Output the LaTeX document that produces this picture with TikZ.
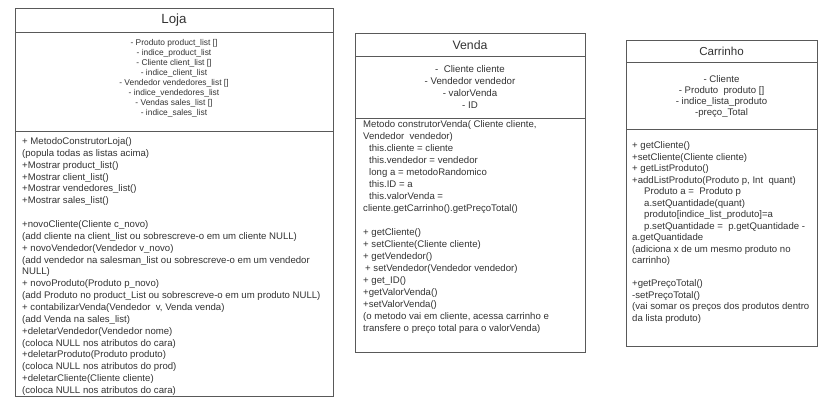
\documentclass[tikz,border=0pt]{standalone}
\usepackage{fontspec}
\setmainfont{Liberation Sans}
\definecolor{txt}{HTML}{333333}
\definecolor{ln}{HTML}{595959}
\begin{document}
\begin{tikzpicture}[x=1pt,y=-1pt,
  box/.style={draw=ln, line width=1pt, fill=white, inner sep=0pt, anchor=north west},
  sep/.style={draw=ln, line width=1pt},
  ttl/.style={text=txt, inner sep=0pt, anchor=center},
  attr/.style={text=txt, inner sep=0pt, align=center, anchor=north},
  meth/.style={text=txt, inner sep=0pt, align=left, anchor=north west}]
\useasboundingbox[fill=white] (0,0) rectangle (836,412);
% ---------------- Loja ----------------
\node[box, minimum width=318pt, minimum height=388pt] (loja) at (15,8) {};
\coordinate (lojaS1) at (15,33);
\coordinate (lojaS2) at (15,131);
\draw[sep] (lojaS1) -- (lojaS1 -| loja.east);
\draw[sep] (lojaS2) -- (lojaS2 -| loja.east);
\node[ttl, font=\fontsize{13.3}{16}\selectfont] (lojaT) at (174,20.5) {Loja};
\node[attr, font=\fontsize{8.4}{10.1}\selectfont] (lojaA) at (174,38.9) {%
- Produto product\_list []\\
- indice\_product\_list\\
- Cliente client\_list []\\
- indice\_client\_list\\
- Vendedor vendedores\_list []\\
- indice\_vendedores\_list\\
- Vendas sales\_list []\\
- indice\_sales\_list};
\node[meth, font=\fontsize{9.6}{11.85}\selectfont] (lojaM) at (22,137.4) {%
+ MetodoConstrutorLoja()\\
(popula todas as listas acima)\\
+Mostrar product\_list()\\
+Mostrar client\_list()\\
+Mostrar vendedores\_list()\\
+Mostrar sales\_list()\\[11.85pt]
+novoCliente(Cliente c\_novo)\\
(add cliente na client\_list ou sobrescreve-o em um cliente NULL)\\
+ novoVendedor(Vendedor v\_novo)\\
(add vendedor na salesman\_list ou sobrescreve-o em um vendedor\\
NULL)\\
+ novoProduto(Produto p\_novo)\\
(add Produto no product\_List ou sobrescreve-o em um produto NULL)\\
+ contabilizarVenda(Vendedor\ \ v, Venda venda)\\
(add Venda na sales\_list)\\
+deletarVendedor(Vendedor nome)\\
(coloca NULL nos atributos do cara)\\
+deletarProduto(Produto produto)\\
(coloca NULL nos atributos do prod)\\
+deletarCliente(Cliente cliente)\\
(coloca NULL nos atributos do cara)};
% ---------------- Venda ----------------
\node[box, minimum width=230pt, minimum height=319pt] (venda) at (355,33) {};
\coordinate (vendaS1) at (355,57);
\coordinate (vendaS2) at (355,118);
\draw[sep] (vendaS1) -- (vendaS1 -| venda.east);
\draw[sep] (vendaS2) -- (vendaS2 -| venda.east);
\node[ttl, font=\fontsize{12.3}{15}\selectfont] (vendaT) at (470,45) {Venda};
\node[attr, font=\fontsize{9.7}{12}\selectfont] (vendaA) at (470,65.4) {%
-\ \ Cliente cliente\\
- Vendedor vendedor\\
- valorVenda\\
- ID};
\node[meth, font=\fontsize{9.6}{12}\selectfont] (vendaM) at (363,120.5) {%
Metodo construtorVenda( Cliente cliente,\\
Vendedor\ \ vendedor)\\
\hspace*{6pt}this.cliente = cliente\\
\hspace*{6pt}this.vendedor = vendedor\\
\hspace*{6pt}long a = metodoRandomico\\
\hspace*{6pt}this.ID = a\\
\hspace*{6pt}this.valorVenda =\\
cliente.getCarrinho().getPreçoTotal()\\[12pt]
+ getCliente()\\
+ setCliente(Cliente cliente)\\
+ getVendedor()\\
\hspace*{2pt}+ setVendedor(Vendedor vendedor)\\
+ get\_ID()\\
+getValorVenda()\\
+setValorVenda()\\
(o metodo vai em cliente, acessa carrinho e\\
transfere o preço total para o valorVenda)};
% ---------------- Carrinho ----------------
\node[box, minimum width=191pt, minimum height=305pt] (carr) at (626,40.5) {};
\coordinate (carrS1) at (626,63);
\coordinate (carrS2) at (626,129);
\draw[sep] (carrS1) -- (carrS1 -| carr.east);
\draw[sep] (carrS2) -- (carrS2 -| carr.east);
\node[ttl, font=\fontsize{11.6}{14}\selectfont] (carrT) at (721.5,51.5) {Carrinho};
\node[attr, font=\fontsize{9.6}{11}\selectfont] (carrA) at (721.5,75.5) {%
- Cliente\\
- Produto\ \ produto []\\
- indice\_lista\_produto\\
-preço\_Total};
\node[meth, font=\fontsize{9.6}{11.5}\selectfont] (carrM) at (632,141.5) {%
+ getCliente()\\
+setCliente(Cliente cliente)\\
+ getListProduto()\\
+addListProduto(Produto p, Int\ \ quant)\\
\hspace*{12pt}Produto a =\ \ Produto p\\
\hspace*{12pt}a.setQuantidade(quant)\\
\hspace*{12pt}produto[indice\_list\_produto]=a\\
\hspace*{12pt}p.setQuantidade =\ \ p.getQuantidade -\\
a.getQuantidade\\
(adiciona x de um mesmo produto no\\
carrinho)\\[11.5pt]
+getPreçoTotal()\\
-setPreçoTotal()\\
(vai somar os preços dos produtos dentro\\
da lista produto)};
\end{tikzpicture}
\end{document}
